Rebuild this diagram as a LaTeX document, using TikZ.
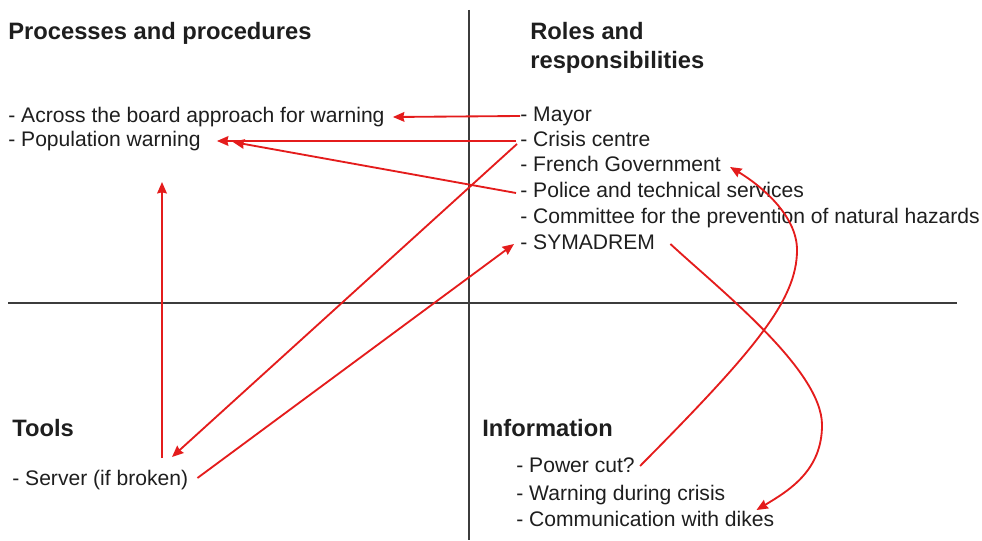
\documentclass[tikz,border=0pt]{standalone}
\usepackage{fontspec}
\setmainfont{Liberation Sans}
\usetikzlibrary{arrows.meta,calc}
\definecolor{arrred}{RGB}{228,28,28}
\definecolor{axisgray}{RGB}{60,60,60}
\definecolor{txt}{RGB}{30,30,30}
\newcommand\itemfont{\fontsize{12}{14}\selectfont}
\newcommand\headfont{\fontsize{13.5}{16}\selectfont\bfseries}
\tikzset{
  item/.style={anchor=base west, inner sep=0pt, font=\itemfont, text=txt},
  head/.style={anchor=base west, inner sep=0pt, font=\headfont, text=txt},
  arr/.style={draw=arrred, line width=1.05pt, -{Stealth[length=6.5pt,width=5.5pt,inset=0.6pt]}},
  axis/.style={draw=axisgray, line width=1.2pt}
}
\begin{document}
\begin{tikzpicture}[x=0.02cm,y=-0.02cm]
\useasboundingbox (0,0) rectangle (982,540);
% axes
\draw[axis] (469,10) -- (469,540);
\draw[axis] (8,303) -- (957,303);
% headings
\node[head] (proc) at (8,40) {Processes and procedures};
\node[head] (roles1) at (530,40) {Roles and};
\node[head] (roles2) at (530,69) {responsibilities};
\node[head] (tools) at (12,436) {Tools};
\node[head] (info) at (482,436) {Information};
% processes
\node[item] (across) at (8,123) {- Across the board approach for warning};
\node[item] (pop) at (8,147) {- Population warning};
% roles
\node[item] (mayor) at (520,122) {- Mayor};
\node[item] (crisis) at (520,147) {- Crisis centre};
\node[item] (french) at (520,172) {- French Government};
\node[item] (police) at (520,198) {- Police and technical services};
\node[item] (committee) at (520,224) {- Committee for the prevention of natural hazards};
\node[item] (sym) at (520,250) {- SYMADREM};
% tools
\node[item] (server) at (12,485) {- Server (if broken)};
% information
\node[item] (power) at (516,472) {- Power cut?};
\node[item] (warncrisis) at (516,500) {- Warning during crisis};
\node[item] (comm) at (516,526) {- Communication with dikes};
% connectors
\draw[arr] ($(mayor.base west)+(0,-6)$) -- ($(across.base east)+(8,-6)$);
\draw[arr] ($(crisis.base west)+(-4,-6)$) -- ($(pop.base east)+(16,-6)$);
\draw[arr] ($(police.base west)+(-4,-5)$) -- ($(pop.base east)+(32,-5)$);
\draw[arr] ($(crisis.base west)+(-3,-3)$) -- ($(server.base west)+(160,-28)$);
\draw[arr] ($(server.base east)+(9,-7)$) -- ($(sym.base west)+(-6,-6)$);
\draw[arr] ($(server.base west)+(150,-27)$) -- ($(pop.base west)+(154,35)$);
\draw[arr] ($(power.base east)+(5,-6)$) .. controls (755,350) and (797,300) .. (797,250)
  .. controls (797,215) and (760,185) .. ($(french.base east)+(9,-5)$);
\draw[arr] ($(sym.base east)+(15,-6)$) .. controls (720,290) and (822,370) .. (822,425)
  .. controls (822,470) and (790,490) .. ($(comm.base east)+(-18,-16)$);
\end{tikzpicture}
\end{document}
